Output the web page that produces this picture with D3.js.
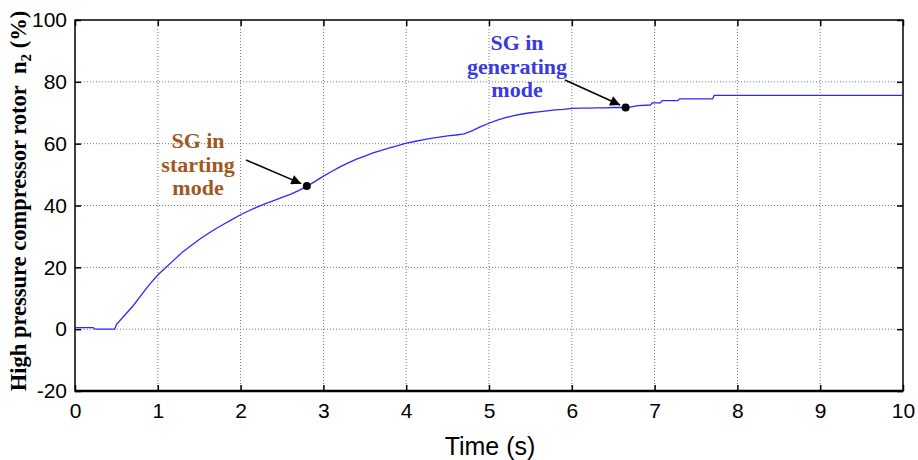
<!DOCTYPE html>
<html><head><meta charset="utf-8">
<script src="https://cdn.jsdelivr.net/npm/d3@7"></script>
<style>body{margin:0;background:#fff}</style>
</head><body>
<svg id="chart" width="918" height="460"></svg>
<script>
// ---- data ----
const xTicks = [0,1,2,3,4,5,6,7,8,9,10];
const yTicks = [-20,0,20,40,60,80,100];
const timeS = [0,0.22,0.24,0.48,0.5,0.6,0.7,0.8,0.9,1.0,1.1,1.2,1.3,1.4,1.5,1.6,1.7,1.8,1.9,2.0,
  2.1,2.2,2.3,2.4,2.5,2.6,2.7,2.8,2.9,3.0,3.1,3.2,3.3,3.4,3.5,3.6,3.7,3.8,3.9,4.0,
  4.1,4.2,4.3,4.4,4.5,4.6,4.7,4.8,4.9,5.0,5.1,5.2,5.3,5.4,5.5,5.6,5.7,5.8,5.9,6.0,
  6.1,6.2,6.3,6.4,6.5,6.6,6.7,6.8,6.95,6.97,7.07,7.09,7.28,7.3,7.7,7.72,10.0];
const n2 = [0.5,0.5,0,0,1.5,4.5,7.5,11,14.5,17.5,20,22.5,25,27,29,30.8,32.5,34,35.5,37,
  38.3,39.5,40.6,41.6,42.6,43.6,44.8,46.2,47.8,49.5,51,52.5,53.8,55,56,57,57.8,58.6,59.4,60.2,
  60.7,61.2,61.7,62.1,62.5,62.8,63.2,64.2,65.5,66.6,67.6,68.4,69.1,69.6,70.0,70.3,70.6,70.9,71.1,71.4,
  71.5,71.5,71.6,71.6,71.7,71.7,71.8,72.3,72.5,73.2,73.2,73.9,73.9,74.5,74.5,75.6,75.6];
const markT = [2.8, 6.65];
const markY = [46.3, 71.7];
const annStart = ["SG in","starting","mode"];
const annGen = ["SG in","generating","mode"];

// ---- layout ----
const svg = d3.select("#chart");
const L=75, R=903, T=20, B=391;
const x = d3.scaleLinear().domain([0,10]).range([L,R]);
const y = d3.scaleLinear().domain([-20,100]).range([B,T]);

// grid
const g = svg.append("g");
g.selectAll(".gx").data(xTicks.slice(1,-1)).enter().append("line")
  .attr("x1",d=>x(d)).attr("x2",d=>x(d)).attr("y1",T).attr("y2",B)
  .attr("stroke","#777").attr("stroke-width",1).attr("stroke-dasharray","1,2");
g.selectAll(".gy").data(yTicks.slice(1,-1)).enter().append("line")
  .attr("y1",d=>y(d)).attr("y2",d=>y(d)).attr("x1",L).attr("x2",R)
  .attr("stroke","#777").attr("stroke-width",1).attr("stroke-dasharray","1,2");

// axes
const fontAx = "Arial, 'Liberation Sans', sans-serif";
const fmt = d => String(d);
const axB = d3.axisBottom(x).tickValues(xTicks).tickSize(-6).tickPadding(12).tickFormat(fmt);
const axT = d3.axisTop(x).tickValues(xTicks).tickSize(-6).tickFormat("");
const axL = d3.axisLeft(y).tickValues(yTicks).tickSize(-6).tickPadding(8).tickFormat(fmt);
const axR = d3.axisRight(y).tickValues(yTicks).tickSize(-6).tickFormat("");
function style(sel){ sel.select(".domain").remove(); sel.selectAll("line").attr("stroke","#000").attr("stroke-width",1.5);
  sel.selectAll("text").attr("font-family",fontAx).attr("font-size",21).attr("fill","#000"); }
svg.append("g").attr("transform",`translate(0,${B})`).call(axB).call(style);
svg.append("g").attr("transform",`translate(0,${T})`).call(axT).call(style);
svg.append("g").attr("transform",`translate(${L},0)`).call(axL).call(style);
svg.append("g").attr("transform",`translate(${R},0)`).call(axR).call(style);
svg.append("rect").attr("x",L).attr("y",T).attr("width",R-L).attr("height",B-T)
  .attr("fill","none").attr("stroke","#000").attr("stroke-width",1.5);
svg.append("line").attr("x1",L).attr("x2",R).attr("y1",B).attr("y2",B).attr("stroke","#000").attr("stroke-width",2.5);

// line
const pts = timeS.map((t,i)=>[t,n2[i]]);
svg.append("path").datum(pts)
  .attr("d", d3.line().x(d=>x(d[0])).y(d=>y(d[1])).curve(d3.curveLinear))
  .attr("fill","none").attr("stroke","#2a2aff").attr("stroke-width",1.3);

// arrows
const defs = svg.append("defs");
defs.append("marker").attr("id","ah").attr("viewBox","0 0 10 10").attr("refX",10).attr("refY",5)
  .attr("markerWidth",16).attr("markerHeight",10).attr("markerUnits","userSpaceOnUse").attr("orient","auto")
  .append("path").attr("d","M0,0 L10,5 L0,10 Z").attr("fill","#000");
function arrow(x1,y1,t,v){
  const x2=x(t), y2=y(v);
  const dx=x2-x1, dy=y2-y1, len=Math.hypot(dx,dy);
  svg.append("line").attr("x1",x1).attr("y1",y1).attr("x2",x2-dx/len*6).attr("y2",y2-dy/len*6)
    .attr("stroke","#000").attr("stroke-width",1.5).attr("marker-end","url(#ah)");
}
arrow(246,160,markT[0],markY[0]);
arrow(565,80,markT[1],markY[1]);
svg.selectAll(".dot").data(markT).enter().append("circle")
  .attr("cx",d=>x(d)).attr("cy",(d,i)=>y(markY[i])).attr("r",4).attr("fill","#000");

// annotations
const serif = "'Times New Roman', 'Liberation Serif', serif";
svg.append("text").attr("font-family",serif).attr("font-weight","bold").attr("font-size",22)
  .attr("fill","#a0581f").attr("text-anchor","middle")
  .selectAll("tspan").data(annStart).enter().append("tspan")
  .attr("x",198).attr("y",(d,i)=>148+i*23.5).text(d=>d);
svg.append("text").attr("font-family",serif).attr("font-weight","bold").attr("font-size",22)
  .attr("fill","#3a3ae0").attr("text-anchor","middle")
  .selectAll("tspan").data(annGen).enter().append("tspan")
  .attr("x",517).attr("y",(d,i)=>50+i*23.5).text(d=>d);

// axis labels
svg.append("text").attr("x",490).attr("y",455).attr("text-anchor","middle")
  .attr("font-family",fontAx).attr("font-size",25).text("Time (s)");
const yl = svg.append("text").attr("transform","translate(26,201) rotate(-90)").attr("text-anchor","middle")
  .attr("font-family",serif).attr("font-weight","bold").attr("font-size",22.5).attr("fill","#000");
yl.append("tspan").text("High pressure compressor rotor\u00a0\u00a0n");
yl.append("tspan").attr("font-size",15).attr("dy",5).text("2");
yl.append("tspan").attr("dy",-5).text(" (%)");
</script>
</body></html>
